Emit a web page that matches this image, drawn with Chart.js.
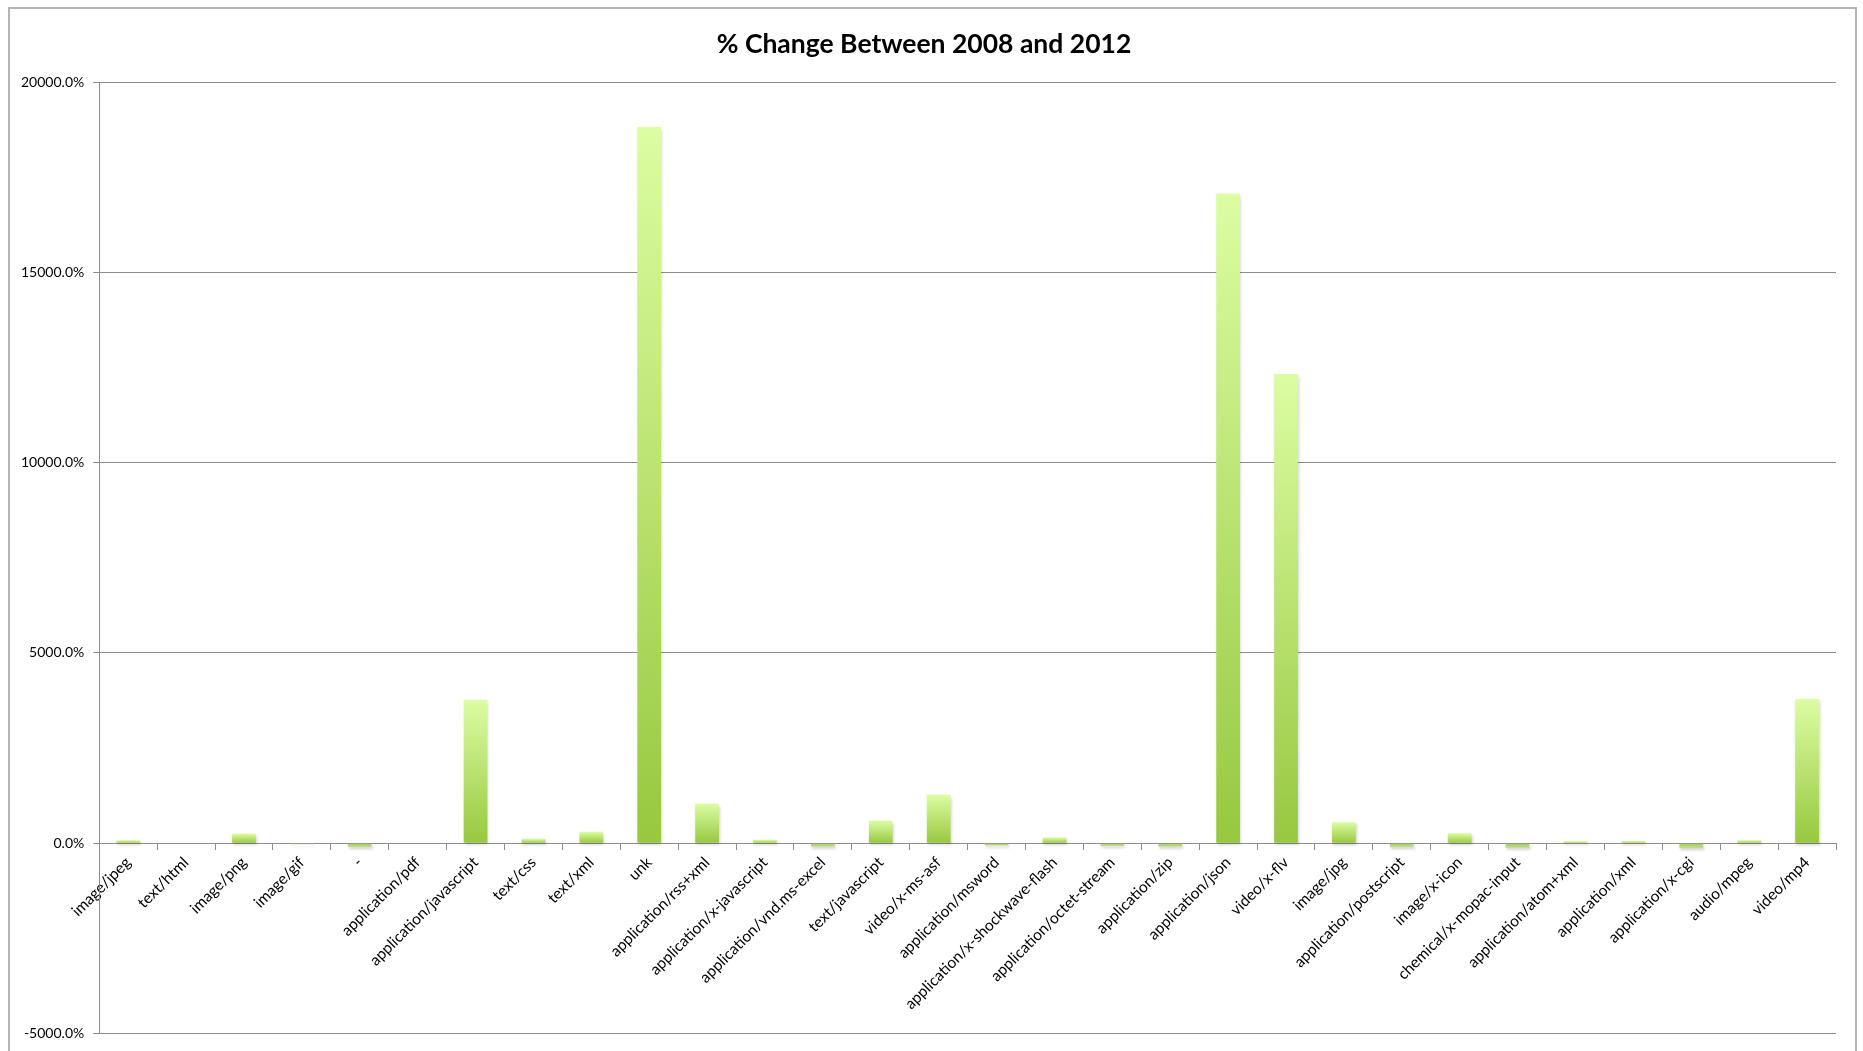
<!DOCTYPE html>
<html>
<head>
<meta charset="utf-8">
<title>% Change Between 2008 and 2012</title>
<script src="https://cdn.jsdelivr.net/npm/chart.js@4/dist/chart.umd.min.js"></script>
<style>
    html, body { margin: 0; padding: 0; background: #fff; overflow: hidden; }
    #wrap { width: 1863px; height: 1051px; position: relative; }
</style>
</head>
<body>
<div id="wrap"><canvas id="changeChart"></canvas></div>
<script>
// content types and their % change between 2008 and 2012
const contentTypes = [
    "image/jpeg", "text/html", "image/png", "image/gif", "-", "application/pdf",
    "application/javascript", "text/css", "text/xml", "unk", "application/rss+xml",
    "application/x-javascript", "application/vnd.ms-excel", "text/javascript",
    "video/x-ms-asf", "application/msword", "application/x-shockwave-flash",
    "application/octet-stream", "application/zip", "application/json", "video/x-flv",
    "image/jpg", "application/postscript", "image/x-icon", "chemical/x-mopac-input",
    "application/atom+xml", "application/xml", "application/x-cgi", "audio/mpeg", "video/mp4"
];
const percentChange = [
    80, -10, 255, -25, -100, -15,
    3770, 120, 305, 18820, 1040,
    90, -90, 590,
    1275, -60, 150,
    -70, -90, 17070, 12330,
    555, -100, 265, -115,
    55, 60, -125, 80, 3790
];
const yMin = -5000;
const yMax = 20000;
const yStep = 5000;

const FONT = "Lato, 'Open Sans', sans-serif";

// gradient fill, light at the top of each bar and deeper green at its base
function barFill(ctx) {
    const chart = ctx.chart;
    if (!chart.chartArea) return "#b5dc6c";
    const y = chart.scales.y;
    const v = ctx.parsed.y;
    const top = y.getPixelForValue(Math.max(v, 0));
    const bottom = y.getPixelForValue(Math.min(v, 0));
    if (bottom - top < 1) return "#bfd39c";
    const g = chart.ctx.createLinearGradient(0, top, 0, bottom);
    if (v >= 0) {
        g.addColorStop(0, "#dcfda2");
        g.addColorStop(1, "#97c83f");
    } else {
        g.addColorStop(0, "#a2cd55");
        g.addColorStop(1, "#c4dc96");
    }
    return g;
}

// grey frame around the whole chart
const framePlugin = {
    id: "frame",
    beforeDraw(chart) {
        const c = chart.ctx;
        c.save();
        c.strokeStyle = "#b4b4b4";
        c.lineWidth = 2;
        c.strokeRect(9, 8, 1847, 1100);
        c.restore();
    }
};

// soft drop shadow under the bars
const shadowPlugin = {
    id: "barShadow",
    beforeDatasetsDraw(chart) {
        const c = chart.ctx;
        c.save();
        c.shadowColor = "rgba(0, 0, 0, 0.18)";
        c.shadowBlur = 3;
        c.shadowOffsetX = 1;
        c.shadowOffsetY = 2;
    },
    afterDatasetsDraw(chart) {
        chart.ctx.restore();
    }
};

new Chart(document.getElementById("changeChart").getContext("2d"), {
    type: "bar",
    data: {
        labels: contentTypes,
        datasets: [
            {
                data: percentChange,
                backgroundColor: barFill,
                borderWidth: 0,
                categoryPercentage: 1,
                barPercentage: 0.41,
            },
        ],
    },
    options: {
        responsive: true,
        maintainAspectRatio: false,
        animation: false,
        layout: {
            padding: { top: 10, left: 12, right: 27, bottom: 16 },
        },
        plugins: {
            legend: { display: false },
            tooltip: { enabled: false },
            title: {
                display: true,
                text: "% Change Between 2008 and 2012",
                color: "#000",
                font: { family: FONT, size: 26.5, weight: "bold" },
                padding: { top: 18.6, bottom: 21.6 },
            },
        },
        scales: {
            x: {
                position: { y: 0 },
                afterFit(scale) {
                    scale.height = 0;
                },
                grid: {
                    display: true,
                    drawOnChartArea: false,
                    drawTicks: true,
                    tickLength: 6,
                    color: "#8c8c8c",
                },
                border: { display: true, color: "#8c8c8c", width: 1 },
                ticks: {
                    autoSkip: false,
                    minRotation: 45,
                    maxRotation: 45,
                    padding: 4,
                    color: "#000",
                    font: { family: FONT, size: 15.5 },
                },
            },
            y: {
                min: yMin,
                max: yMax,
                grid: {
                    color: "#8c8c8c",
                    lineWidth: 1,
                    tickLength: 6,
                },
                border: { display: true, color: "#8c8c8c", width: 1 },
                ticks: {
                    stepSize: yStep,
                    padding: 9,
                    color: "#000",
                    font: { family: FONT, size: 14 },
                    callback: (value) => value.toFixed(1) + "%",
                },
            },
        },
    },
    plugins: [framePlugin, shadowPlugin],
});
</script>
</body>
</html>
